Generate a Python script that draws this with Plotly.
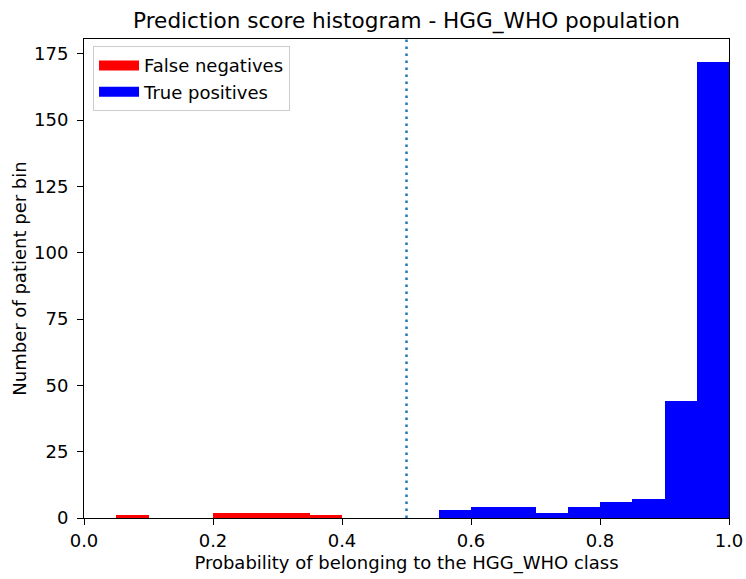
import plotly.graph_objects as go

bin_width = 0.05
fn_left_edges = [0.05, 0.20, 0.25, 0.30, 0.35]
fn_counts = [1, 2, 2, 2, 1]
tp_left_edges = [0.55, 0.60, 0.65, 0.70, 0.75, 0.80, 0.85, 0.90, 0.95]
tp_counts = [3, 4, 4, 2, 4, 6, 7, 44, 172]
threshold = 0.5
x_ticks = [0.0, 0.2, 0.4, 0.6, 0.8, 1.0]
y_ticks = [0, 25, 50, 75, 100, 125, 150, 175]

font = "DejaVu Sans"
fs = 18
fig = go.Figure()
fig.add_trace(go.Bar(x=fn_left_edges, y=fn_counts, width=bin_width, offset=0,
                     marker=dict(color="red", line=dict(width=0)),
                     name="False negatives", showlegend=False))
fig.add_trace(go.Bar(x=tp_left_edges, y=tp_counts, width=bin_width, offset=0,
                     marker=dict(color="blue", line=dict(width=0)),
                     name="True positives", showlegend=False))
# legend entries drawn as wide patches (like matplotlib)
fig.add_trace(go.Scatter(x=[None], y=[None], mode="lines",
                         line=dict(color="red", width=13),
                         name="False negatives", legendgroup="fn"))
fig.add_trace(go.Scatter(x=[None], y=[None], mode="lines",
                         line=dict(color="blue", width=13),
                         name="True positives", legendgroup="tp"))
fig.add_shape(type="line", x0=threshold, x1=threshold, y0=0, y1=1,
              xref="x", yref="paper",
              line=dict(color="#1f77b4", width=2.5, dash="2.5px,4.5px"))

fig.update_layout(
    width=746, height=579,
    margin=dict(l=84, r=17, t=39, b=61),
    plot_bgcolor="white", paper_bgcolor="white",
    bargap=0,
    font=dict(family=font, size=fs, color="black"),
    title=dict(text="Prediction score histogram - HGG_WHO population",
               x=0.5, xanchor="center", xref="paper",
               y=1 - 20/579, yanchor="middle", font=dict(size=21.6)),
    showlegend=True,
    legend=dict(x=0.014, y=0.985, xanchor="left", yanchor="top",
                bgcolor="rgba(255,255,255,0.8)", bordercolor="#cccccc",
                borderwidth=1, font=dict(size=fs), traceorder="grouped",
                tracegroupgap=0, itemwidth=40),
)
fig.update_xaxes(range=[0, 1], tickvals=x_ticks,
                 ticktext=[f"{v:.1f}" for v in x_ticks],
                 tickfont=dict(size=fs),
                 showgrid=False, zeroline=False, automargin=False,
                 showline=True, linecolor="black", linewidth=1, mirror=True,
                 ticks="outside", ticklen=6, tickcolor="black",
                 title=dict(text="Probability of belonging to the HGG_WHO class",
                            font=dict(size=fs), standoff=6))
fig.update_yaxes(range=[0, 180.6], tickvals=y_ticks,
                 tickfont=dict(size=fs),
                 showgrid=False, zeroline=False, automargin=False,
                 showline=True, linecolor="black", linewidth=1, mirror=True,
                 ticks="outside", ticklen=6, tickcolor="black",
                 ticklabelstandoff=5,
                 title=dict(text="Number of patient per bin",
                            font=dict(size=fs), standoff=2))

fig.write_html("out.html")
